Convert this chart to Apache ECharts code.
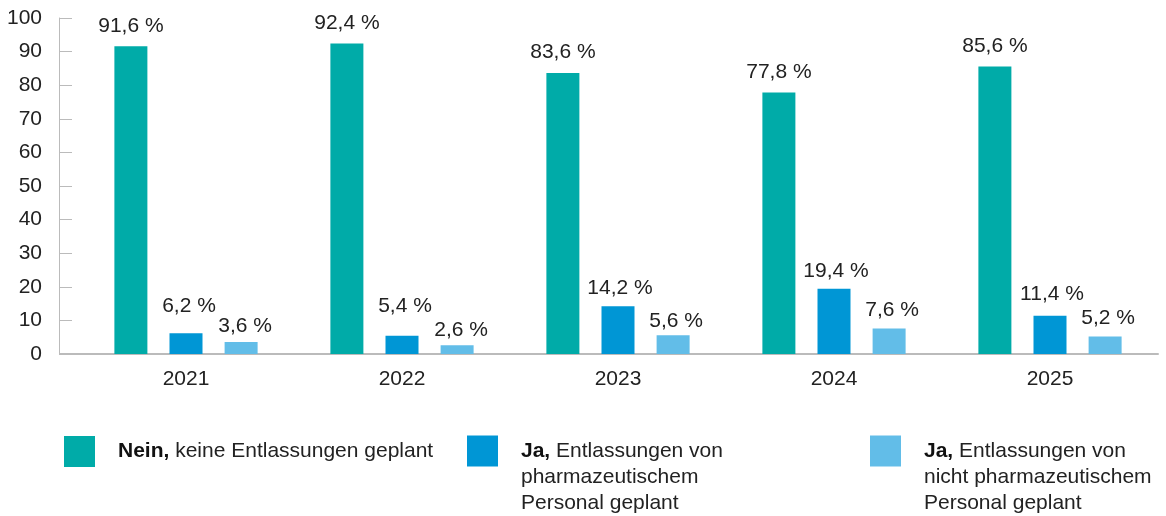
<!DOCTYPE html>
<html>
<head>
<meta charset="utf-8">
<script src="https://cdn.jsdelivr.net/npm/echarts@6/dist/echarts.min.js"></script>
<style>
html, body { margin: 0; padding: 0; background: #fff; }
#main { width: 1166px; height: 516px; }
</style>
</head>
<body>
<div id="main"></div>
<script>
var years = ['2021', '2022', '2023', '2024', '2025'];
var nein = [91.6, 92.4, 83.6, 77.8, 85.6];
var jaPharma = [6.2, 5.4, 14.2, 19.4, 11.4];
var jaNicht = [3.6, 2.6, 5.6, 7.6, 5.2];
var seriesNames = ['nein', 'jaPharma', 'jaNicht'];
var legendTexts = [
  '{b|Nein,} keine Entlassungen geplant',
  '{b|Ja,} Entlassungen von\npharmazeutischem\nPersonal geplant',
  '{b|Ja,} Entlassungen von\nnicht pharmazeutischem\nPersonal geplant'
];
var colors = ['#00aba8', '#0096d5', '#62bde8'];

// small label nudges so the labels of the short bars don't collide (style only)
var labelNudge = {
  nein: [[0, 0], [0, 0], [0, 0], [0, 0], [0, 0]],
  jaPharma: [[3, -6], [3, -9], [2, 2], [2, 3], [2, -1]],
  jaNicht: [[4, 5], [4, 5], [3, 7], [3, 2], [3, 2]]
};

var chartDom = document.getElementById('main');
var myChart = echarts.init(chartDom);
var font = '"Liberation Sans", Arial, sans-serif';

function fmt(p) {
  return p.value.toFixed(1).replace('.', ',') + ' %';
}

function makeSeries(name, data, color) {
  var items = [];
  for (var i = 0; i < data.length; i++) {
    items.push({ value: data[i], label: { offset: labelNudge[name][i] } });
  }
  return {
    name: name,
    type: 'bar',
    data: items,
    barWidth: 33,
    barGap: '67%',
    itemStyle: { color: color },
    label: {
      show: true,
      position: 'top',
      distance: 10,
      color: '#222',
      fontFamily: font,
      fontSize: 21,
      formatter: fmt
    }
  };
}

function makeLegend(i, left, top, pad) {
  return {
    data: [seriesNames[i]],
    left: left,
    top: top,
    orient: 'vertical',
    itemWidth: 31,
    itemHeight: 31,
    itemGap: 0,
    icon: 'rect',
    selectedMode: false,
    formatter: function () { return legendTexts[i]; },
    textStyle: {
      color: '#222',
      fontFamily: font,
      fontSize: 21,
      lineHeight: 26,
      padding: [pad, 0, 0, 18],
      rich: {
        b: { fontWeight: 'bold', fontFamily: font, fontSize: 21, color: '#111', lineHeight: 26 }
      }
    }
  };
}

var option = {
  animation: false,
  grid: { left: 78, right: 8, top: 18, bottom: 162, containLabel: false },
  legend: [
    makeLegend(0, 59, 431, 0),
    makeLegend(1, 462, 381, 52),
    makeLegend(2, 865, 381, 52)
  ],
  xAxis: {
    type: 'category',
    data: years,
    axisLine: { lineStyle: { color: '#bbb', width: 2 } },
    axisTick: { show: false },
    axisLabel: { color: '#222', fontFamily: font, fontSize: 21, margin: 15 }
  },
  yAxis: {
    type: 'value',
    min: 0,
    max: 100,
    interval: 10,
    offset: 19,
    splitLine: { show: false },
    axisLine: { show: true, lineStyle: { color: '#bbb', width: 1 } },
    axisTick: { show: true, inside: true, length: 13, lineStyle: { color: '#bbb' } },
    axisLabel: { color: '#222', fontFamily: font, fontSize: 21, margin: 17 }
  },
  graphic: [{
    type: 'line',
    shape: { x1: 59, y1: 354, x2: 79, y2: 354 },
    style: { stroke: '#bbb', lineWidth: 2 }
  }],
  series: [
    makeSeries(seriesNames[0], nein, colors[0]),
    makeSeries(seriesNames[1], jaPharma, colors[1]),
    makeSeries(seriesNames[2], jaNicht, colors[2])
  ]
};
option && myChart.setOption(option);
</script>
</body>
</html>
